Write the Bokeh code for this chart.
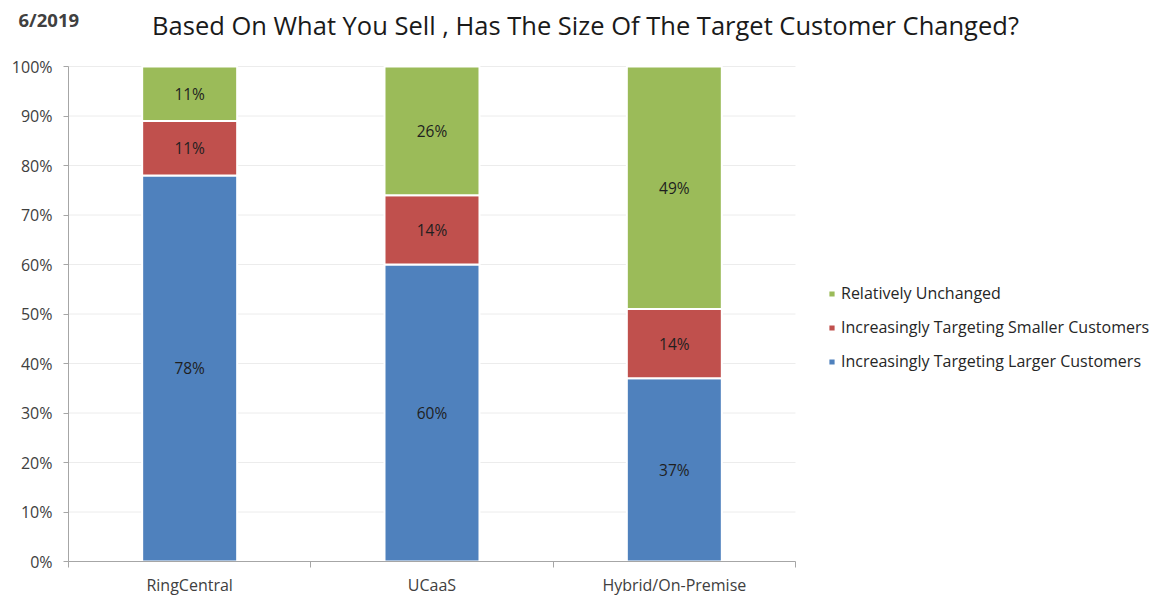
from bokeh.plotting import figure
from bokeh.models import ColumnDataSource, Legend, LegendItem, FixedTicker, Label, LabelSet, Range1d
from bokeh.core.properties import value
from bokeh.embed import file_html
from bokeh.resources import INLINE

categories = ["RingCentral", "UCaaS", "Hybrid/On-Premise"]
larger = [78, 60, 37]
smaller = [11, 14, 14]
unchanged = [11, 26, 49]
series_names = ["Increasingly Targeting Larger Customers",
                "Increasingly Targeting Smaller Customers",
                "Relatively Unchanged"]
colors = ["#4F81BD", "#C0504D", "#9BBB59"]
y_ticks = [0, 10, 20, 30, 40, 50, 60, 70, 80, 90, 100]
title_text = "Based On What You Sell , Has The Size Of The Target Customer Changed?"
date_text = "6/2019"

FONT = "Open Sans"
W, H = 1150, 597
AXIS_X = 68          # pixel position of the value axis
AXIS_Y = 561         # pixel position of the category axis
PX_X = 242.33        # pixels per category
PX_Y = 4.95          # pixels per percent

xs = [i + 0.5 for i in range(len(categories))]
data = dict(x=xs, larger=larger, smaller=smaller, unchanged=unchanged)
data["y1"] = [v / 2 for v in larger]
data["y2"] = [a + b / 2 for a, b in zip(larger, smaller)]
data["y3"] = [a + b + c / 2 for a, b, c in zip(larger, smaller, unchanged)]
data["t1"] = [f"{v}%" for v in larger]
data["t2"] = [f"{v}%" for v in smaller]
data["t3"] = [f"{v}%" for v in unchanged]
src = ColumnDataSource(data)

p = figure(width=W, height=H, output_backend="svg", toolbar_location=None,
           x_range=Range1d(-AXIS_X / PX_X, (W - AXIS_X) / PX_X),
           y_range=Range1d(-(H - AXIS_Y) / PX_Y, AXIS_Y / PX_Y),
           min_border_left=0, min_border_top=0, min_border_bottom=0,
           min_border_right=0)
p.outline_line_color = None
p.background_fill_color = "white"

p.xgrid.grid_line_color = None
p.ygrid.grid_line_color = None
p.segment(x0=0, x1=len(categories), y0=y_ticks, y1=y_ticks, line_color="#ececec", line_width=1)

renderers = p.vbar_stack(["larger", "smaller", "unchanged"], x="x", width=0.392,
                         color=colors, line_color="white", line_width=2, source=src)

for ycol, tcol in [("y1", "t1"), ("y2", "t2"), ("y3", "t3")]:
    p.add_layout(LabelSet(x="x", y=ycol, text=tcol, source=src, text_align="center",
                          text_baseline="middle", text_font=value(FONT),
                          text_font_size="15.5px", text_color="#1f1f1f"))

p.yaxis.fixed_location = 0
p.yaxis.bounds = (0, 100)
p.yaxis.ticker = FixedTicker(ticks=y_ticks)
p.yaxis.major_label_overrides = {t: f"{t}%" for t in y_ticks}
p.yaxis.major_label_text_font = FONT
p.yaxis.major_label_text_font_size = "16px"
p.yaxis.major_label_text_color = "#404040"
p.yaxis.axis_line_color = "#a6a6a6"
p.yaxis.major_tick_line_color = "#a6a6a6"
p.yaxis.major_tick_out = 5
p.yaxis.major_tick_in = 0
p.yaxis.minor_tick_line_color = None
p.yaxis.major_label_standoff = 11

p.xaxis.fixed_location = 0
p.xaxis.bounds = (0, len(categories))
p.xaxis.ticker = FixedTicker(ticks=xs, minor_ticks=list(range(len(categories) + 1)))
p.xaxis.major_label_overrides = {x: c for x, c in zip(xs, categories)}
p.xaxis.major_label_text_font = FONT
p.xaxis.major_label_text_font_size = "16px"
p.xaxis.major_label_text_color = "#404040"
p.xaxis.axis_line_color = "#a6a6a6"
p.xaxis.major_tick_line_color = None
p.xaxis.major_tick_out = 0
p.xaxis.major_tick_in = 0
p.xaxis.minor_tick_line_color = "#a6a6a6"
p.xaxis.minor_tick_out = 6
p.xaxis.minor_tick_in = 0
p.xaxis.major_label_standoff = 6

p.add_layout(Label(x=(585 - AXIS_X) / PX_X, y=(AXIS_Y - 24) / PX_Y, text=title_text,
                   text_align="center", text_baseline="alphabetic", text_font=FONT,
                   text_font_size="25.5px", text_color="#1a1a1a"))
p.add_layout(Label(x=(18 - AXIS_X) / PX_X, y=(AXIS_Y - 19) / PX_Y, text=date_text,
                   text_align="left", text_baseline="alphabetic", text_font=FONT,
                   text_font_size="18.5px", text_color="#404040", text_font_style="bold"))

items = [LegendItem(label=series_names[i], renderers=[renderers[i]]) for i in [2, 1, 0]]
legend = Legend(items=items, location=(827, H - 372), border_line_color=None,
                background_fill_alpha=0, glyph_width=9, glyph_height=9,
                label_text_font=FONT, label_text_font_size="16px",
                label_text_color="#262626", label_height=20, spacing=12,
                label_standoff=5, padding=0, margin=0)
p.add_layout(legend, "center")

open("out.html", "w").write(file_html(p, INLINE))
